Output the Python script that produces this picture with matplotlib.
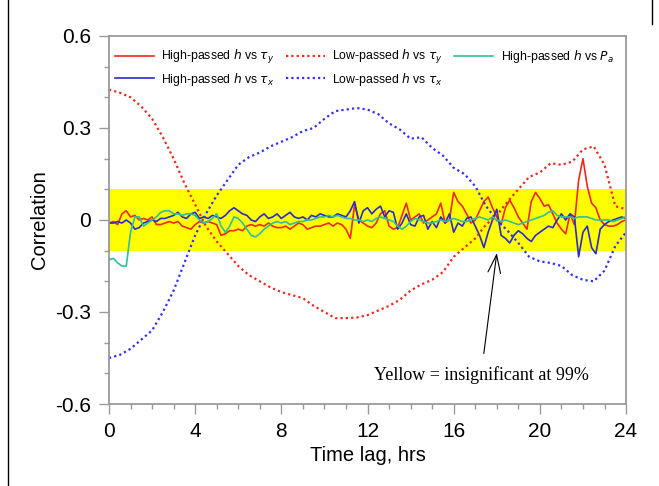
import numpy as np
import matplotlib
matplotlib.use('Agg')
import matplotlib.pyplot as plt
from matplotlib.lines import Line2D

# time axes (hrs)
t_hp = np.linspace(0, 24, 121)
t_lp = np.linspace(0, 24, 49)

hp_tau_y = [-0.01, -0.005, -0.015, 0.02, 0.03, 0.01, 0.015, 0.0, 0.005, 0.0,
            0.01, -0.015, -0.015, -0.01, -0.005, -0.01, -0.005, -0.02, -0.025, -0.03,
            -0.015, -0.005, -0.01, -0.005, -0.01, -0.015, -0.05, -0.045, -0.035, -0.035,
            -0.03, -0.035, -0.02, -0.015, -0.02, -0.015, -0.02, -0.01, -0.02, -0.025,
            -0.025, -0.02, -0.03, -0.02, -0.01, -0.015, -0.03, -0.025, -0.02, -0.02,
            -0.015, -0.01, -0.02, -0.01, -0.015, -0.03, -0.06, 0.05, 0.0, -0.01,
            -0.02, -0.025, -0.01, 0.02, 0.03, -0.02, -0.03, -0.025, 0.015, 0.055,
            0.0, 0.01, 0.02, -0.01, 0.0, 0.01, 0.02, 0.055, -0.01, 0.0,
            0.09, 0.06, 0.045, 0.02, -0.01, 0.0, 0.03, 0.06, 0.075, 0.04,
            0.01, -0.015, 0.04, 0.065, 0.04, 0.01, -0.01, -0.03, 0.06, 0.09,
            0.07, 0.045, 0.05, 0.02, -0.01, -0.03, -0.045, 0.02, -0.015, 0.13,
            0.2, 0.11, 0.055, 0.04, 0.0, -0.015, -0.02, -0.02, -0.015, -0.005,
            0.0]

hp_tau_x = [-0.01, -0.01, -0.005, -0.01, 0.0, -0.01, -0.03, -0.025, -0.01, -0.005,
            0.0, -0.005, 0.005, 0.005, 0.01, 0.015, 0.025, 0.01, 0.005, 0.02,
            0.025, 0.005, 0.01, 0.005, 0.015, 0.01, 0.005, 0.015, 0.03, 0.04,
            0.03, 0.02, 0.015, 0.0, -0.005, 0.01, 0.02, 0.005, 0.01, 0.02,
            0.005, 0.015, 0.025, 0.01, 0.005, 0.01, 0.0, 0.015, 0.01, 0.02,
            0.015, 0.01, 0.01, 0.02, 0.015, 0.01, 0.03, 0.06, -0.01, 0.03,
            0.04, 0.02, 0.035, 0.045, 0.01, 0.03, 0.025, -0.03, -0.01, 0.02,
            -0.015, -0.02, 0.01, 0.015, -0.03, -0.005, -0.025, 0.01, -0.01, 0.02,
            -0.04, -0.01, -0.02, 0.005, 0.01, -0.02, -0.05, -0.09, -0.04, 0.0,
            0.035, -0.05, -0.06, -0.075, -0.05, -0.035, -0.045, -0.06, -0.07, -0.05,
            -0.04, -0.03, -0.02, -0.025, 0.0, 0.02, 0.0, 0.02, 0.01, -0.12,
            -0.04, -0.02, -0.09, -0.11, -0.03, -0.015, -0.005, 0.0, 0.005, 0.01,
            0.005]

hp_pa = [-0.13, -0.125, -0.14, -0.15, -0.15, -0.04, 0.01, 0.01, -0.02, -0.01,
         0.0, 0.01, 0.025, 0.03, 0.03, 0.02, 0.02, 0.015, 0.02, 0.02,
         0.015, 0.0, -0.01, -0.005, 0.005, 0.02, -0.02, -0.04, -0.02, 0.01,
         0.005, -0.01, -0.03, -0.05, -0.055, -0.045, -0.03, -0.02, -0.01, -0.005,
         -0.01, -0.005, -0.015, -0.01, -0.005, -0.005, 0.0, 0.0, 0.005, 0.01,
         0.01, 0.015, 0.01, 0.015, 0.01, 0.005, 0.005, 0.0, 0.0, -0.005,
         0.0, -0.005, 0.005, 0.01, 0.005, 0.0, -0.005, -0.02, -0.03, -0.02,
         -0.005, 0.005, 0.0, -0.005, -0.01, -0.01, -0.005, 0.0, -0.005, 0.0,
         0.005, 0.0, -0.005, -0.005, 0.0, 0.005, 0.01, 0.005, 0.0, 0.01,
         0.0, -0.005, 0.0, -0.005, -0.01, -0.015, -0.01, -0.005, 0.0, 0.005,
         0.01, 0.015, 0.025, 0.03, 0.015, 0.01, 0.01, 0.01, 0.005, 0.01,
         0.01, 0.01, 0.005, 0.0, 0.0, 0.0, 0.0, -0.005, 0.0, 0.005,
         0.01]

lp_tau_y = [0.425, 0.415, 0.40, 0.37, 0.33, 0.27, 0.20, 0.12, 0.05, -0.02,
            -0.07, -0.11, -0.15, -0.18, -0.20, -0.22, -0.235, -0.245, -0.255, -0.28,
            -0.30, -0.32, -0.32, -0.318, -0.31, -0.295, -0.28, -0.26, -0.23, -0.21,
            -0.195, -0.17, -0.12, -0.09, -0.06, -0.015, 0.015, 0.06, 0.10, 0.14,
            0.155, 0.185, 0.18, 0.19, 0.23, 0.24, 0.18, 0.045, 0.035]

lp_tau_x = [-0.45, -0.44, -0.42, -0.39, -0.36, -0.30, -0.23, -0.14, -0.05, 0.02,
            0.08, 0.13, 0.18, 0.205, 0.22, 0.24, 0.255, 0.27, 0.29, 0.30,
            0.33, 0.355, 0.36, 0.365, 0.36, 0.345, 0.315, 0.295, 0.265, 0.27,
            0.235, 0.21, 0.17, 0.15, 0.11, 0.045, 0.0, -0.035, -0.075, -0.12,
            -0.135, -0.14, -0.15, -0.18, -0.195, -0.20, -0.165, -0.085, -0.04]

red = '#f0281e'
blue = '#2a2ad2'
blue_lp = '#3030ff'
teal = '#2ec0a0'
grey = '#9a9a9a'

plt.rcParams['font.family'] = ['Liberation Sans', 'DejaVu Sans']

fig = plt.figure(figsize=(6.59, 4.86), dpi=100)
ax = fig.add_axes([0.1654, 0.1687, 0.7846, 0.7573])

ax.axhspan(-0.1, 0.1, color='#ffff00', zorder=0, lw=0)

ax.plot(t_hp, hp_tau_y, color=red, lw=1.2, label=r'High-passed $h$ vs $\tau_y$')
ax.plot(t_hp, hp_tau_x, color=blue, lw=1.2, label=r'High-passed $h$ vs $\tau_x$')
ax.plot(t_lp, lp_tau_y, color=red, lw=1.6, ls=(0, (1, 1.4)), label=r'Low-passed $h$ vs $\tau_y$')
ax.plot(t_lp, lp_tau_x, color=blue_lp, lw=1.6, ls=(0, (1, 1.4)), label=r'Low-passed $h$ vs $\tau_x$')
ax.plot(t_hp, hp_pa, color=teal, lw=1.2, label=r'High-passed $h$ vs $P_a$')

ax.set_xlim(0, 24)
ax.set_ylim(-0.6, 0.6)
ax.set_xticks([0, 4, 8, 12, 16, 20, 24])
ax.set_xticks(np.arange(0, 25, 1), minor=True)
ax.set_yticks([-0.6, -0.3, 0, 0.3, 0.6])
ax.set_yticklabels(['-0.6', '-0.3', '0', '0.3', '0.6'])
ax.set_yticks(np.arange(-0.6, 0.61, 0.1), minor=True)

for s in ax.spines.values():
    s.set_color(grey)
    s.set_linewidth(1.3)
ax.tick_params(which='major', direction='out', length=7, width=1, color=grey,
               labelsize=15, pad=6)
ax.tick_params(which='minor', direction='out', length=3.5, width=1, color=grey)

ax.set_xlabel('Time lag, hrs', fontsize=14.5)
ax.set_ylabel('Correlation', fontsize=14.5)
ax.xaxis.set_label_coords(0.5, -0.141)
ax.yaxis.set_label_coords(-0.1335, 0.5)
ax.xaxis.label.set_va('center')
ax.yaxis.label.set_va('center')

leg = ax.legend(ncol=3, loc='upper left', bbox_to_anchor=(0.002, 0.98), borderaxespad=0,
                frameon=False, fontsize=8.8, handlelength=3.2, columnspacing=0.9,
                labelspacing=0.35, handletextpad=0.6)

ax.annotate('Yellow = insignificant at 99%', xy=(18.0, -0.108), xytext=(17.27, -0.505),
            ha='center', va='center', fontsize=13, family='Liberation Serif',
            arrowprops=dict(arrowstyle='->,head_length=1.0,head_width=0.35',
                            color='black', lw=0.8, shrinkA=7, shrinkB=0))

# frame remnants of the original page
fig.add_artist(Line2D([8 / 659, 8 / 659], [0, 1], transform=fig.transFigure,
                      color='black', lw=1))
fig.add_artist(Line2D([652 / 659, 652 / 659], [1 - 24 / 486, 1], transform=fig.transFigure,
                      color='black', lw=1))

fig.savefig('out.png', dpi=100)
